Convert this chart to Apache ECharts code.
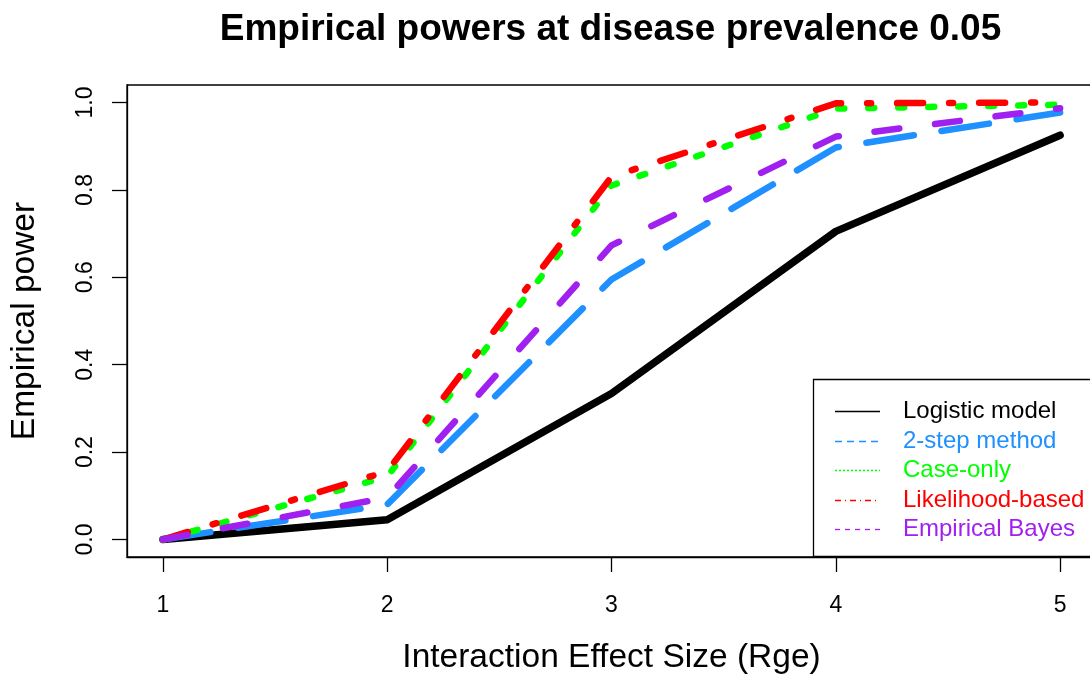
<!DOCTYPE html>
<html>
<head>
<meta charset="utf-8">
<script src="https://cdn.jsdelivr.net/npm/echarts@6/dist/echarts.min.js"></script>
<style>
html,body{margin:0;padding:0;background:#fff;}
#chart{width:1090px;height:684px;}
</style>
</head>
<body>
<div id="chart"></div>
<script>
// ---- data ----
var effectSizes = [1, 2, 3, 4, 5];
var logisticModel   = [0.000, 0.045, 0.334, 0.705, 0.925];
var twoStepMethod   = [0.000, 0.080, 0.595, 0.897, 0.977];
var caseOnly        = [0.000, 0.144, 0.810, 0.986, 0.995];
var likelihoodBased = [0.000, 0.156, 0.830, 0.998, 1.000];
var empiricalBayes  = [0.000, 0.096, 0.673, 0.922, 0.987];
var xTicks = [1, 2, 3, 4, 5];
var yTicks = [0, 0.2, 0.4, 0.6, 0.8, 1.0];
var seriesNames = ['Logistic model', '2-step method', 'Case-only', 'Likelihood-based', 'Empirical Bayes'];
var seriesColors = ['#000000', '#1E90FF', '#00FF00', '#FF0000', '#A020F0'];

function pairs(vals) { return effectSizes.map(function (x, i) { return [x, vals[i]]; }); }

var FONT = '"Liberation Sans", Arial, Helvetica, sans-serif';
var chart = echarts.init(document.getElementById('chart'), null, {renderer: 'canvas'});

var lineStyles = [
  {width: 7.5, type: 'solid'},
  {width: 6.5, type: [48, 28]},
  {width: 6.5, type: [6, 24]},
  {width: 6.5, type: [26, 26, 4, 26]},
  {width: 6.5, type: [25, 36]}
];
var legendLineTypes = [null, [7, 5], [2, 2], [6, 4, 1, 4], [5, 5]];
var seriesData = [logisticModel, twoStepMethod, caseOnly, likelihoodBased, empiricalBayes];

var series = seriesNames.map(function (name, i) {
  return {
    name: name,
    type: 'line',
    data: pairs(seriesData[i]),
    symbol: 'none',
    smooth: false,
    silent: true,
    animation: false,
    z: 2 + i,
    lineStyle: {
      color: seriesColors[i],
      width: lineStyles[i].width,
      type: lineStyles[i].type,
      cap: 'round',
      join: 'round'
    },
    itemStyle: {color: seriesColors[i]}
  };
});

// hand-drawn legend (box + sample lines + labels) to mimic R's legend()
var LEG = {x: 813, y: 379, w: 300, h: 177, lineX0: 835, lineX1: 880, textX: 903, row0: 411, rowStep: 29.6};
var legendGraphics = [{
  type: 'rect', z: 100,
  shape: {x: LEG.x + 0.5, y: LEG.y + 0.5, width: LEG.w, height: LEG.h},
  style: {fill: '#fff', stroke: '#000', lineWidth: 1.3}
}];
seriesNames.forEach(function (n, i) {
  var y = Math.round(LEG.row0 + i * LEG.rowStep) + 0.5;
  var st = {stroke: seriesColors[i], lineWidth: 1.3};
  if (legendLineTypes[i]) st.lineDash = legendLineTypes[i];
  legendGraphics.push({
    type: 'line', z: 101,
    shape: {x1: LEG.lineX0, y1: y, x2: LEG.lineX1, y2: y},
    style: st
  });
  legendGraphics.push({
    type: 'text', z: 101,
    x: LEG.textX, y: y,
    style: {text: n, fill: seriesColors[i], font: '24px ' + FONT, textVerticalAlign: 'middle', textAlign: 'left'}
  });
});

var option = {
  backgroundColor: '#ffffff',
  animation: false,
  title: {
    text: 'Empirical powers at disease prevalence 0.05',
    left: 605.5, textAlign: 'center',
    top: 6,
    textStyle: {fontFamily: FONT, fontWeight: 'bold', fontSize: 37, color: '#000'}
  },
  grid: {
    left: 127, right: -6, top: 85, bottom: 127,
    outerBoundsMode: 'none', containLabel: false,
    show: true, borderColor: '#000', borderWidth: 1.3, backgroundColor: 'transparent'
  },
  xAxis: {
    type: 'value', min: 0.84, max: 5.16,
    name: 'Interaction Effect Size (Rge)', nameLocation: 'middle', nameGap: 84,
    nameTextStyle: {fontFamily: FONT, fontSize: 33.5, color: '#000'},
    axisLine: {show: true, onZero: false, lineStyle: {color: '#000', width: 1.3}},
    axisTick: {show: true, inside: false, length: 15, customValues: xTicks, lineStyle: {color: '#000', width: 1.3}},
    axisLabel: {show: true, customValues: xTicks, margin: 37, fontFamily: FONT, fontSize: 23, color: '#000',
      formatter: function (v) { return String(v); }},
    splitLine: {show: false}
  },
  yAxis: {
    type: 'value', min: -0.04, max: 1.04,
    name: 'Empirical power', nameLocation: 'middle', nameGap: 85, nameRotate: 90,
    nameTextStyle: {fontFamily: FONT, fontSize: 33.5, color: '#000'},
    axisLine: {show: true, onZero: false, lineStyle: {color: '#000', width: 1.3}},
    axisTick: {show: true, inside: false, length: 15, customValues: yTicks, lineStyle: {color: '#000', width: 1.3}},
    axisLabel: {show: true, customValues: yTicks, rotate: 90, margin: 30, fontFamily: FONT, fontSize: 23, color: '#000',
      formatter: function (v) { return v.toFixed(1); }},
    splitLine: {show: false}
  },
  graphic: legendGraphics,
  series: series
};
chart.setOption(option);
</script>
</body>
</html>
